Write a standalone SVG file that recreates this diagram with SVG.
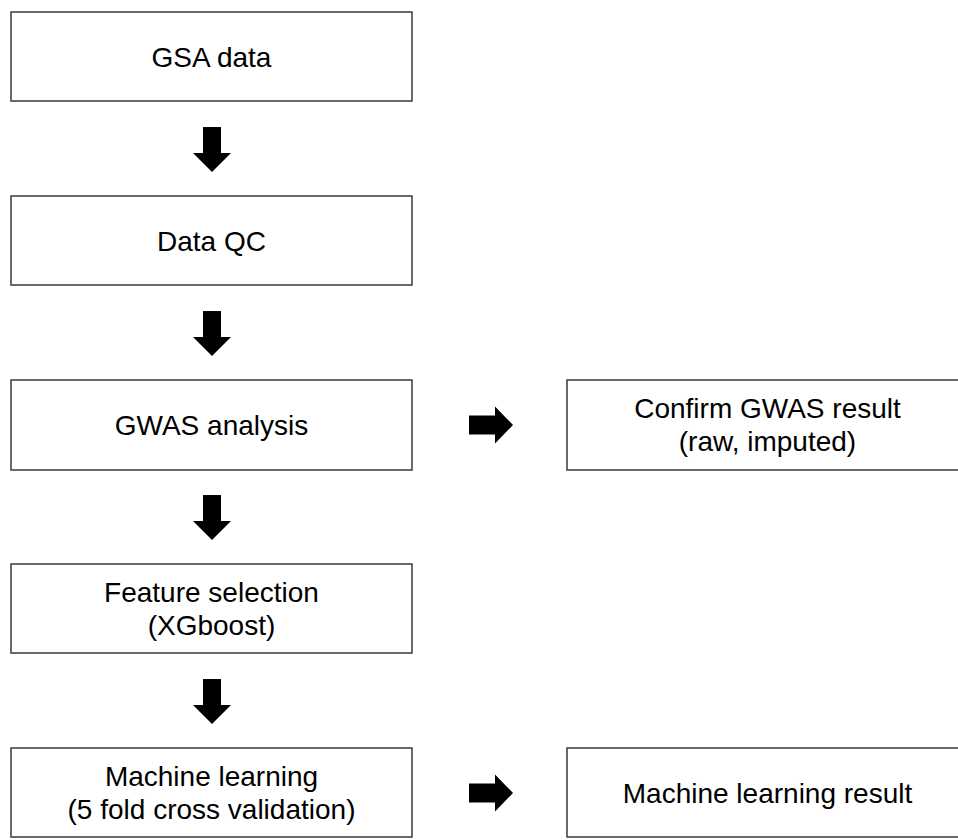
<svg xmlns="http://www.w3.org/2000/svg" width="958" height="840" viewBox="0 0 958 840">
<style>
.box{fill:#ffffff;stroke:#3a3a3a;stroke-width:1.5}
.t{font-family:"Liberation Sans",Arial,sans-serif;font-size:28px;fill:#000;text-anchor:middle}
.arr{fill:#000}
</style>
<defs>
<path id="down" d="M-9,0 H9 V26 H19 L0,45 L-19,26 H-9 Z"/>
<path id="right" d="M0,-9.5 H26 V-18.5 L44,0 L26,18.5 V9.5 H0 Z"/>
</defs>
<rect width="958" height="840" fill="#fff"/>
<g id="n1"><rect class="box" x="11" y="12" width="401" height="89"/><text class="t" x="211.5" y="66.5">GSA data</text></g>
<g id="n2"><rect class="box" x="11" y="196" width="401" height="89"/><text class="t" x="211.5" y="250.5">Data QC</text></g>
<g id="n3"><rect class="box" x="11" y="380" width="401" height="90"/><text class="t" x="211.5" y="435">GWAS analysis</text></g>
<g id="n4"><rect class="box" x="11" y="564" width="401" height="89"/><text class="t" x="211.5" y="602">Feature selection</text><text class="t" x="211.5" y="635">(XGboost)</text></g>
<g id="n5"><rect class="box" x="11" y="748" width="401" height="89"/><text class="t" x="211.5" y="786">Machine learning</text><text class="t" x="211.5" y="819">(5 fold cross validation)</text></g>
<g id="n6"><rect class="box" x="567" y="380" width="401" height="90"/><text class="t" x="767.5" y="418">Confirm GWAS result</text><text class="t" x="767.5" y="451">(raw, imputed)</text></g>
<g id="n7"><rect class="box" x="567" y="748" width="401" height="89"/><text class="t" x="767.5" y="802.5">Machine learning result</text></g>
<g id="connectors">
<use href="#down" class="arr" x="212" y="127"/>
<use href="#down" class="arr" x="212" y="311"/>
<use href="#down" class="arr" x="212" y="495"/>
<use href="#down" class="arr" x="212" y="679"/>
<use href="#right" class="arr" x="469" y="425"/>
<use href="#right" class="arr" x="469" y="793"/>
</g>
</svg>
